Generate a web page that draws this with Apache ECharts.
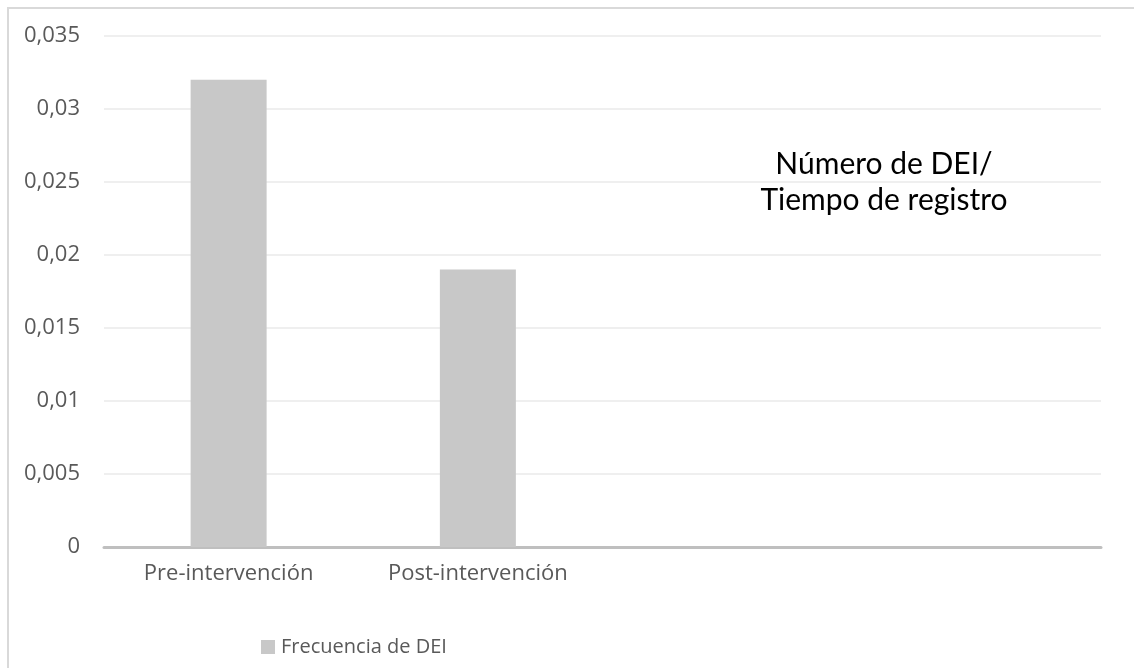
<!DOCTYPE html>
<html>
<head>
<meta charset="utf-8">
<script src="https://cdn.jsdelivr.net/npm/echarts@6/dist/echarts.min.js"></script>
<style>
  html, body { margin: 0; padding: 0; background: #ffffff; }
  #chart { width: 1134px; height: 668px; }
</style>
</head>
<body>
<div id="chart"></div>
<script>
// Categories on the x axis (two trailing empty slots keep the plot's spacing)
const categories = ['Pre-intervención', 'Post-intervención', '', ''];
// Frequency of DEI per category
const frecuencia = [0.032, 0.019, null, null];
const seriesName = 'Frecuencia de DEI';
const yMin = 0, yMax = 0.035, yStep = 0.005;
const noteLines = ['Número de DEI/', 'Tiempo de registro'];

const AXIS_FONT = '"Open Sans", sans-serif';
const NOTE_FONT = 'Lato, "Open Sans", sans-serif';
const chart = echarts.init(document.getElementById('chart'), null, { renderer: 'canvas' });

// Centred two-line note in the empty right part of the plot
const noteElements = noteLines.map((line, i) => ({
  type: 'text',
  x: 884,
  y: 164 + i * 36,
  style: {
    text: line,
    align: 'center',
    verticalAlign: 'middle',
    textAlign: 'center',
    textVerticalAlign: 'middle',
    fontFamily: NOTE_FONT,
    fontSize: 30,
    fill: '#000000'
  },
  silent: true
}));

chart.setOption({
  backgroundColor: '#ffffff',
  animation: false,
  grid: { left: 104, right: 33, top: 36, bottom: 121, containLabel: false },
  legend: {
    data: [seriesName],
    left: 256,
    top: 632,
    icon: 'rect',
    itemWidth: 14,
    itemHeight: 14,
    itemGap: 5,
    textStyle: { fontFamily: AXIS_FONT, fontSize: 20, color: '#595959', padding: [0, 0, 0, 1] }
  },
  xAxis: {
    type: 'category',
    data: categories,
    axisLine: { lineStyle: { color: '#bfbfbf', width: 3 } },
    axisTick: { show: false },
    axisLabel: { fontFamily: AXIS_FONT, fontSize: 22, color: '#595959', margin: 16 },
    splitLine: { show: false }
  },
  yAxis: {
    type: 'value',
    min: yMin,
    max: yMax,
    interval: yStep,
    axisLine: { show: false },
    axisTick: { show: false },
    axisLabel: {
      fontFamily: AXIS_FONT, fontSize: 22, color: '#595959', margin: 24,
      formatter: v => v === 0 ? '0' : String(+v.toFixed(3)).replace('.', ',')
    },
    splitLine: { lineStyle: { color: '#efefef', width: 2 } }
  },
  series: [{
    name: seriesName,
    type: 'bar',
    data: frecuencia,
    barWidth: 76,
    itemStyle: { color: '#c8c8c8' }
  }],
  graphic: [
    {
      type: 'rect',
      shape: { x: 8, y: 8, width: 1200, height: 800 },
      style: { fill: 'none', stroke: '#d9d9d9', lineWidth: 2 },
      silent: true,
      z: -10
    }
  ].concat(noteElements)
});
</script>
</body>
</html>
